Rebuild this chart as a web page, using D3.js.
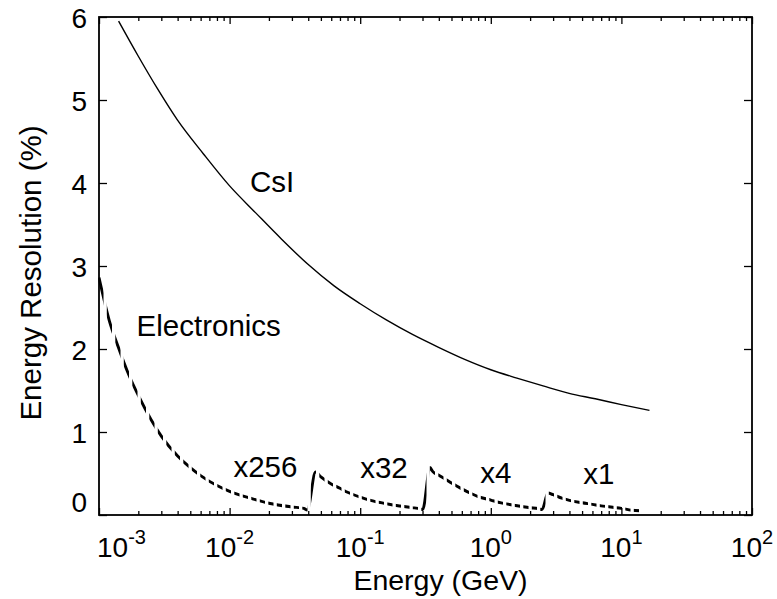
<!DOCTYPE html>
<html>
<head>
<meta charset="utf-8">
<script src="https://cdn.jsdelivr.net/npm/d3@7"></script>
<style>
  body { margin: 0; background: #fff; }
  text { font-family: "Liberation Sans", Arial, Helvetica, sans-serif; fill: #000; }
</style>
</head>
<body>
<svg id="chart" width="777" height="599"></svg>
<script>
// CsI intrinsic resolution: energy (GeV) and resolution (%)
const csiEnergy = [0.001413, 0.001995, 0.002818, 0.003981, 0.00631, 0.01, 0.01585, 0.02512, 0.03981, 0.0631,
                   0.1, 0.1585, 0.2512, 0.3981, 0.631, 1.0, 1.585, 2.512, 3.981, 6.31, 10.0, 16.4];
const csiResolution = [5.95, 5.53, 5.13, 4.76, 4.35, 3.965, 3.64, 3.32, 3.02, 2.76,
                       2.545, 2.35, 2.175, 2.02, 1.875, 1.75, 1.65, 1.555, 1.465, 1.40, 1.33, 1.26];

// Electronics noise contribution across the four gain ranges (x256, x32, x4, x1)
const elecEnergy = [0.001, 0.0012, 0.0014, 0.0017, 0.002, 0.0025, 0.003, 0.004, 0.005, 0.006, 0.008, 0.01,
                    0.015, 0.02, 0.03, 0.037, 0.0394,
                    0.0455, 0.05, 0.06, 0.07, 0.08, 0.1, 0.12, 0.15, 0.2, 0.25, 0.29, 0.301,
                    0.342, 0.36, 0.4, 0.45, 0.5, 0.6, 0.7, 0.8, 1.0, 1.2, 1.5, 2.0, 2.3, 2.466,
                    2.74, 3.0, 3.5, 4.0, 5.0, 6.0, 7.0, 8.0, 10, 12, 14];
const elecResolution = [2.86, 2.34, 2.03, 1.68, 1.44, 1.15, 0.95, 0.71, 0.57, 0.475, 0.355, 0.285,
                        0.195, 0.142, 0.097, 0.08, 0.06,
                        0.518, 0.459, 0.374, 0.322, 0.274, 0.215, 0.177, 0.143, 0.108, 0.089, 0.072, 0.065,
                        0.572, 0.522, 0.478, 0.43, 0.385, 0.315, 0.262, 0.222, 0.18, 0.146, 0.118, 0.088, 0.078, 0.065,
                        0.265, 0.245, 0.202, 0.176, 0.147, 0.128, 0.11, 0.1, 0.08, 0.058, 0.052];

// Gain-range annotations: label, energy (GeV) and resolution (%) at the start of the text baseline
const rangeLabels = ["x256", "x32", "x4", "x1"];
const rangeLabelEnergy = [0.0107, 0.1, 0.83, 5.1];
const rangeLabelResolution = [0.46, 0.44, 0.39, 0.37];

// Axis ticks
const xTickExponents = [-3, -2, -1, 0, 1, 2];
const yTicks = [0, 1, 2, 3, 4, 5, 6];

const svg = d3.select("#chart");
const margin = { left: 99, right: 25, top: 17, bottom: 84 };
const W = 777, H = 599;
const labelFont = 29.5, titleFont = 28.5, tickFont = 28;

const x = d3.scaleLog().domain([1e-3, 1e2]).range([margin.left, W - margin.right]);
const y = d3.scaleLinear().domain([0, 6]).range([H - margin.bottom, margin.top]);

const x0 = x.range()[0], x1 = x.range()[1];
const y0 = y.range()[0], y1 = y.range()[1];

// Minor ticks: 2..9 in each decade
const minorTicks = [];
for (let e = -3; e < 2; e++) for (let m = 2; m <= 9; m++) minorTicks.push(m * Math.pow(10, e));
const majorTicks = xTickExponents.map(e => Math.pow(10, e));

const axisStyle = g => {
  g.select(".domain").remove();
  g.selectAll("line").attr("stroke", "#000").attr("stroke-width", 1.3);
  g.selectAll("text").remove();
};

// bottom axis (ticks point inward)
svg.append("g").attr("transform", `translate(0,${y0})`)
  .call(d3.axisBottom(x).tickValues(minorTicks).tickSize(-4).tickFormat("")).call(axisStyle);
svg.append("g").attr("transform", `translate(0,${y0})`)
  .call(d3.axisBottom(x).tickValues(majorTicks).tickSize(-7).tickFormat("")).call(axisStyle);
// top axis
svg.append("g").attr("transform", `translate(0,${y1})`)
  .call(d3.axisTop(x).tickValues(minorTicks).tickSize(-4).tickFormat("")).call(axisStyle);
svg.append("g").attr("transform", `translate(0,${y1})`)
  .call(d3.axisTop(x).tickValues(majorTicks).tickSize(-7).tickFormat("")).call(axisStyle);
// left and right axes
svg.append("g").attr("transform", `translate(${x0},0)`)
  .call(d3.axisLeft(y).tickValues(yTicks).tickSize(-8).tickFormat("")).call(axisStyle);
svg.append("g").attr("transform", `translate(${x1},0)`)
  .call(d3.axisRight(y).tickValues(yTicks).tickSize(-8).tickFormat("")).call(axisStyle);

// frame
svg.append("rect")
  .attr("x", x0).attr("y", y1).attr("width", x1 - x0).attr("height", y0 - y1)
  .attr("fill", "none").attr("stroke", "#000").attr("stroke-width", 1.8);

// y tick labels (the zero label is lifted above the corner)
svg.append("g").selectAll("text").data(yTicks).join("text")
  .attr("x", x0 - 12)
  .attr("y", d => d === 0 ? y(d) - 3 : y(d) + 11)
  .attr("text-anchor", "end")
  .attr("font-size", tickFont)
  .text(d => d);

// x tick labels as powers of ten
const xl = svg.append("g").selectAll("text").data(xTickExponents).join("text")
  .attr("y", y0 + 42)
  .attr("font-size", tickFont);
xl.append("tspan").text("10");
xl.append("tspan").attr("dy", -13).attr("font-size", 20).text(d => d);
xl.each(function (d) {
  const w = this.getComputedTextLength();
  let left = x(Math.pow(10, d)) - w / 2;
  if (left < x0 - 2) left = x0 - 2;
  d3.select(this).attr("x", left);
});

// axis titles
svg.append("text")
  .attr("x", (x0 + x1) / 2 + 15).attr("y", H - 9)
  .attr("text-anchor", "middle").attr("font-size", titleFont)
  .text("Energy (GeV)");
svg.append("text")
  .attr("transform", `translate(41,${(y0 + y1) / 2 + 7}) rotate(-90)`)
  .attr("text-anchor", "middle").attr("font-size", labelFont)
  .text("Energy Resolution (%)");

// curves
const line = d3.line()
  .x(d => x(d[0]))
  .y(d => y(d[1]))
  .curve(d3.curveMonotoneX);

const csiPoints = csiEnergy.map((e, i) => [e, csiResolution[i]]);
svg.append("path")
  .attr("d", line(csiPoints))
  .attr("fill", "none").attr("stroke", "#000").attr("stroke-width", 1.4);

// dash pattern for the electronics curve: vertical stripes
const dashPeriod = 8.5, dashWidth = 5.2, dashStart = 98.3;
const clip = svg.append("clipPath").attr("id", "dashes");
for (let xs = dashStart; xs < x1; xs += dashPeriod) {
  clip.append("rect").attr("x", xs).attr("y", y1).attr("width", dashWidth).attr("height", y0 - y1);
}
const elecPoints = elecEnergy.map((e, i) => [e, elecResolution[i]]);
svg.append("path")
  .attr("d", line(elecPoints))
  .attr("clip-path", "url(#dashes)")
  .attr("fill", "none").attr("stroke", "#000").attr("stroke-width", 2.9);

// curve annotations
svg.append("text").attr("x", x(0.01433)).attr("y", y(3.895)).attr("font-size", labelFont).text("CsI");
svg.append("text").attr("x", x(0.00194)).attr("y", y(2.16)).attr("font-size", labelFont).text("Electronics");
svg.append("g").selectAll("text").data(rangeLabels).join("text")
  .attr("x", (d, i) => x(rangeLabelEnergy[i]))
  .attr("y", (d, i) => y(rangeLabelResolution[i]))
  .attr("font-size", labelFont)
  .text(d => d);
</script>
</body>
</html>
